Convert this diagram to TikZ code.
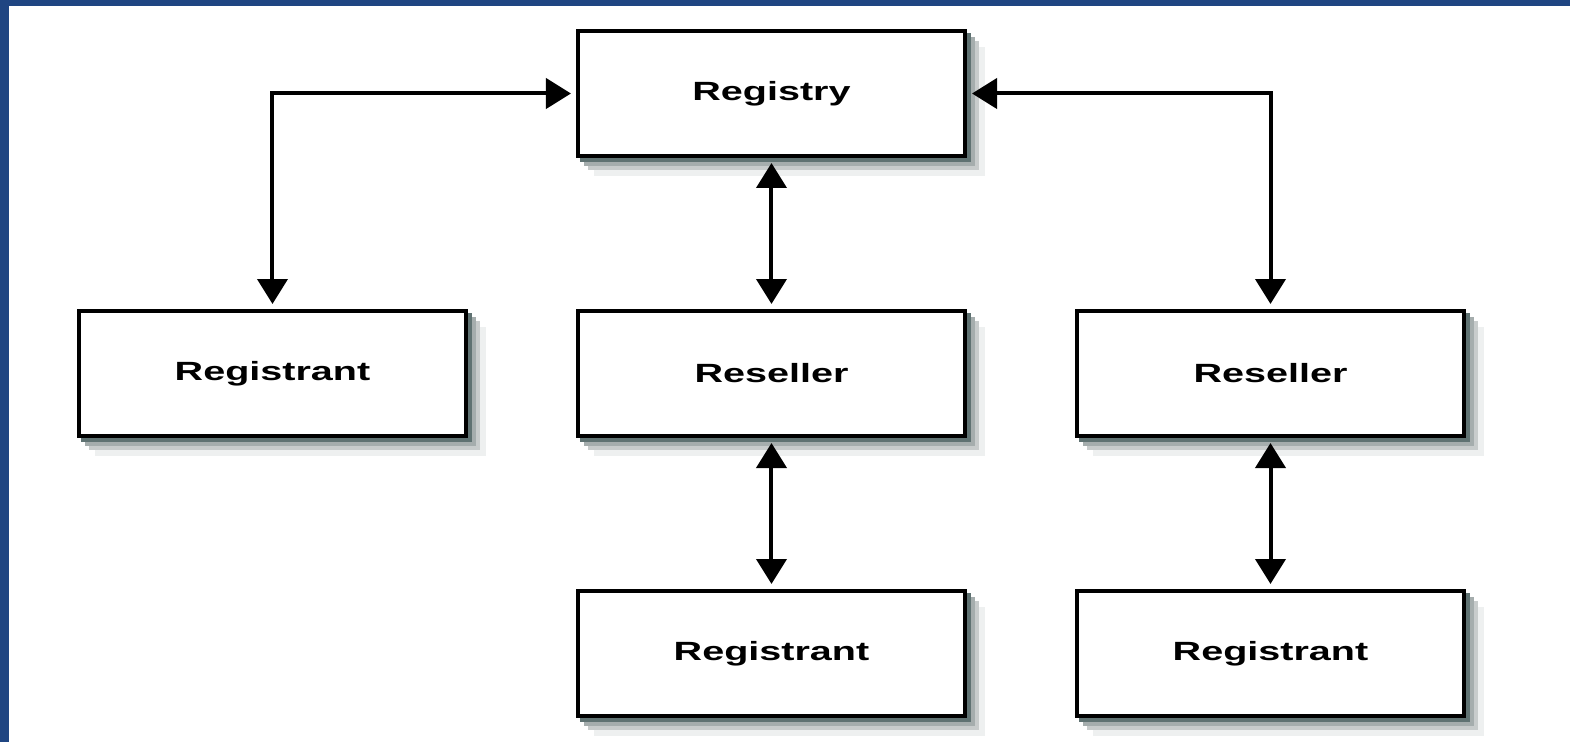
\documentclass[tikz,border=0pt]{standalone}
\usepackage{xcolor}
\usepackage{fontspec}
\usepackage{tikz}
\usetikzlibrary{arrows.meta,shadows}
\newfontfamily\boxfont{Liberation Sans}[FakeStretch=1.5]
\definecolor{frameBlue}{RGB}{31, 69, 130}
\definecolor{shadowDark}{RGB}{95, 114, 114}
\definecolor{shadowMid}{RGB}{165, 173, 173}
\definecolor{shadowLight}{RGB}{200, 204, 204}
\definecolor{shadowFaint}{RGB}{238, 240, 240}

\begin{document}
\begin{tikzpicture}[node distance=5.6cm, auto]
    % Define styles
    \tikzstyle{entity} = [rectangle, draw, line width=0.08cm, fill=white, minimum width=7.74cm, minimum height=2.5cm, font=\boxfont\bfseries\fontsize{15}{18}\selectfont,
        copy shadow={shadow xshift=0.36cm, shadow yshift=-0.36cm, fill=shadowFaint, draw=shadowFaint},
        copy shadow={shadow xshift=0.24cm, shadow yshift=-0.24cm, fill=shadowLight, draw=shadowLight},
        copy shadow={shadow xshift=0.16cm, shadow yshift=-0.16cm, fill=shadowMid, draw=shadowMid},
        copy shadow={shadow xshift=0.08cm, shadow yshift=-0.08cm, fill=shadowDark, draw=shadowDark}]
    \tikzstyle{link} = [line width=0.08cm, {Triangle[width=0.6cm,length=0.5cm]}-{Triangle[width=0.6cm,length=0.5cm]}, shorten >=0.1cm, shorten <=0.1cm]

    % Page and frame
    \useasboundingbox[fill=white] (-15.43,-12.97) rectangle (15.97,1.87);
    \fill [frameBlue] (-15.43,-12.97) rectangle (-15.25,1.87);
    \fill [frameBlue] (-15.43,1.75) rectangle (15.97,1.87);

    % Top
    \node [entity] (registry) {Registry};

    % Middle row
    \node [entity, below of=registry] (reseller1) {Reseller};
    \node [entity, left of=reseller1, xshift=-4.38cm] (registrant1) {Registrant};
    \node [entity, right of=reseller1, xshift=4.38cm] (reseller2) {Reseller};

    % Bottom row
    \node [entity, below of=reseller1] (registrant2) {Registrant};
    \node [entity, below of=reseller2] (registrant3) {Registrant};

    % Arrows
    \draw [link] (registry.west) -| (registrant1.north);
    \draw [link] (registry.east) -| (reseller2.north);
    \draw [link] (registry) -- (reseller1);
    \draw [link] (reseller1) -- (registrant2);
    \draw [link] (reseller2) -- (registrant3);
\end{tikzpicture}
\end{document}
